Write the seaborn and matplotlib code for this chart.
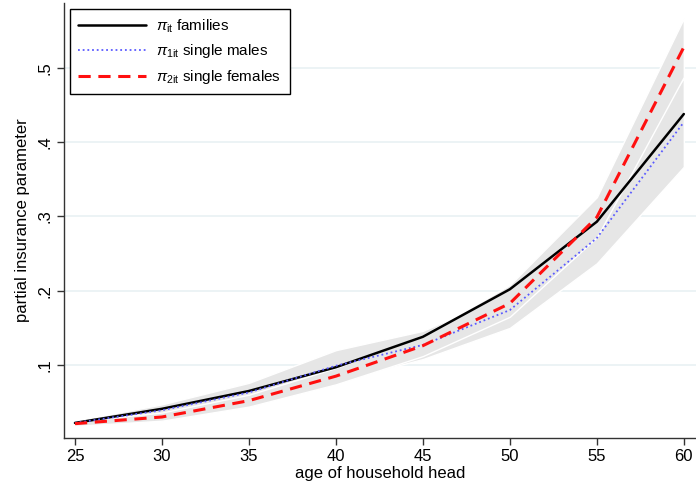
import numpy as np
import pandas as pd
import seaborn as sns
import matplotlib
matplotlib.use("Agg")
import matplotlib.pyplot as plt

# data
ages = [25, 30, 35, 40, 45, 50, 55, 60]
families = [0.022, 0.041, 0.065, 0.097, 0.138, 0.202, 0.293, 0.438]
males = [0.022, 0.039, 0.063, 0.099, 0.127, 0.174, 0.271, 0.427]
females = [0.021, 0.030, 0.052, 0.085, 0.126, 0.183, 0.299, 0.528]

males_lo = [0.019, 0.033, 0.052, 0.078, 0.108, 0.150, 0.237, 0.367]
males_hi = [0.025, 0.047, 0.076, 0.120, 0.146, 0.198, 0.305, 0.487]
females_lo = [0.018, 0.025, 0.044, 0.074, 0.112, 0.165, 0.272, 0.488]
females_hi = [0.024, 0.036, 0.060, 0.096, 0.140, 0.208, 0.326, 0.567]

yticks = [0.1, 0.2, 0.3, 0.4, 0.5]
ytick_labels = [".1", ".2", ".3", ".4", ".5"]

df = pd.DataFrame({"age": ages, "fam": families, "male": males, "female": females})

sns.set_style("white")
plt.rcParams["font.family"] = ["Liberation Sans", "DejaVu Sans"]
plt.rcParams["mathtext.fontset"] = "custom"
plt.rcParams["mathtext.rm"] = "Liberation Sans"
plt.rcParams["mathtext.it"] = "Liberation Sans:italic"
plt.rcParams["text.color"] = "black"
plt.rcParams["axes.labelcolor"] = "black"
plt.rcParams["xtick.color"] = "black"
plt.rcParams["ytick.color"] = "black"

fig = plt.figure(figsize=(6.96, 4.90), dpi=100)
ax = fig.add_axes([64 / 696, 1 - 438 / 490, 1 - 64 / 696, 435 / 490])

for y in yticks:
    ax.axhline(y, color="#e9f1f3", lw=1.2, zorder=0)

# confidence bands, grey with white edges
ax.fill_between(ages, males_lo, males_hi, facecolor="#e6e6e6", edgecolor="white", lw=1, zorder=1)
ax.fill_between(ages, females_lo, females_hi, facecolor="#e6e6e6", edgecolor="white", lw=1, zorder=1)

sns.lineplot(data=df, x="age", y="fam", ax=ax, color="black", lw=1.8,
             label=r"$\pi_{\mathregular{it}}$ families", zorder=3)
sns.lineplot(data=df, x="age", y="male", ax=ax, color="#5b5bff", lw=1.3, linestyle=(0, (1, 1.6)),
             label=r"$\pi_{\mathregular{1it}}$ single males", zorder=3)
sns.lineplot(data=df, x="age", y="female", ax=ax, color="#ff1010", lw=2.2, linestyle=(0, (4, 2.5)),
             label=r"$\pi_{\mathregular{2it}}$ single females", zorder=4)

ax.set_xlim(24.37, 60.7)
ax.set_ylim(0.0017, 0.5875)
ax.set_xticks([25, 30, 35, 40, 45, 50, 55, 60])
ax.set_yticks(yticks)
ax.set_yticklabels(ytick_labels, rotation=90, va="center")
ax.tick_params(axis="both", which="major", bottom=True, left=True, direction="out",
               length=5, width=1, color="#333333", labelcolor="black", labelsize=12, pad=3)
ax.set_xlabel("age of household head", fontsize=12, labelpad=1, color="black")
ax.set_ylabel("partial insurance parameter", fontsize=12, labelpad=6, color="black")

for s in ["top", "right"]:
    ax.spines[s].set_visible(False)
for s in ["left", "bottom"]:
    ax.spines[s].set_color("#333333")
    ax.spines[s].set_linewidth(1)

leg = ax.legend(loc="upper left", bbox_to_anchor=(6 / 632, 1 - 6 / 435), fontsize=11,
                frameon=True, fancybox=False, framealpha=1, edgecolor="black", borderaxespad=0,
                handlelength=4.4, borderpad=0.55, labelspacing=0.5, handletextpad=0.7)
leg.get_frame().set_linewidth(1)
for t in leg.get_texts():
    t.set_color("black")

fig.savefig("out.png", dpi=100)
